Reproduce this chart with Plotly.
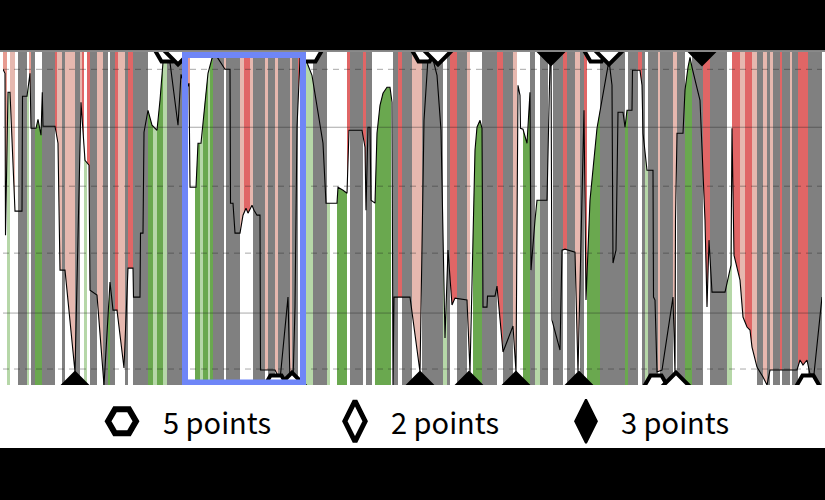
import numpy as np
import plotly.graph_objects as go

# ---------------- data ----------------
line_x = [3, 5, 5.5, 8, 10, 15, 22, 22.5, 27, 30, 31, 36, 38, 41, 42.3, 43, 55, 58, 60, 65, 75,
          81, 85, 89, 90, 97, 104, 110, 113, 117, 124, 128, 133, 133.5, 140, 140.5, 143, 144, 148,
          152, 157, 160, 163, 167, 170, 178, 181, 186, 189, 190, 196, 198, 201, 203, 205, 208, 212,
          215, 218, 225, 230, 230.5, 233, 235, 240, 243, 246, 248, 252, 254, 257, 260, 260.5, 275,
          280, 288, 290, 293, 295, 297, 300, 305, 308, 312, 323, 326, 337, 338, 343, 347, 349, 362,
          365, 366, 368, 370, 371, 375, 377, 380, 383, 387, 390, 392, 393, 394, 410, 420, 424, 428,
          432, 437, 441, 445, 448, 452, 455, 467, 470, 475, 477, 480, 482, 483, 487, 487.5, 495, 497,
          503, 513, 516, 518, 520, 520.5, 523, 527, 530, 531, 535, 537, 547, 550, 551, 552, 560, 562,
          565, 575, 578, 584, 586, 590, 597, 600, 605, 609, 612, 613, 616, 618, 623, 625, 627, 632,
          632.5, 640, 642, 643, 647, 653, 653.5, 655, 657, 662, 673, 675, 675.5, 677, 683, 685, 688,
          690, 692, 700, 705, 707, 709, 712, 725, 731, 732, 734, 740, 743, 747, 750, 752, 757, 763,
          767, 770, 797, 800, 803, 807, 810, 814, 822]
line_y = [94.8, 93.6, 45.0, 87.9, 87.9, 52.2, 52.2, 86.7, 86.7, 93.6, 77.1, 77.1, 79.8, 75.0, 87.9,
          77.7, 77.7, 72.6, 34.5, 34.5, 3.9,
          84.9, 67.5, 66.0, 28.5, 27.0, 0.0, 30.9, 22.5, 22.5, 5.1, 35.1, 35.1, 26.4, 26.4, 45.6,
          45.6, 75.9, 82.5,
          78.0, 76.5, 85.5, 96.9, 99.0, 96.9, 78.0, 93.3, 88.5, 90.6, 59.4, 59.4, 72.6, 72.6, 78.6,
          85.5, 93.6, 98.1,
          99.3, 98.1, 94.8, 94.8, 54.6, 54.6, 45.6, 45.6, 51.0, 53.1, 51.6, 54.0, 52.5, 51.0, 51.0,
          4.5, 4.5,
          1.5, 26.4, 1.5, 0.9, 23.4, 77.4, 98.1, 99.0, 96.0, 93.0, 72.6, 54.6, 54.6, 59.4, 58.5,
          57.6, 76.5, 76.5,
          71.4, 52.5, 77.4, 77.4, 55.5, 54.6, 75.6, 84.0, 87.6, 89.4, 89.4, 84.9, 0.0, 26.4, 26.4,
          3.9, 79.5, 98.1,
          99.0, 93.0, 76.5, 14.1, 40.5, 24.0, 26.1, 25.5, 3.9, 70.5, 77.4, 79.5, 77.1, 23.4, 23.4,
          26.7, 26.7, 29.7,
          9.9, 17.7, 3.9, 90.0, 87.0, 77.1, 76.8, 72.6, 87.9, 34.5, 49.5, 55.5, 55.5, 96.9, 99.6,
          19.5, 10.5, 40.5,
          40.8, 39.9, 3.9, 82.5, 25.5, 55.5, 77.1, 82.5, 91.5, 97.5, 90.0, 36.6, 40.5, 81.9, 81.9,
          77.4, 82.5, 82.5,
          94.5, 94.5, 90.0, 75.6, 64.5, 64.5, 26.4, 25.5, 3.9, 4.5, 26.4, 3.9, 49.5, 75.6, 75.6,
          88.5, 95.4,
          98.4, 95.4, 85.5, 49.5, 23.4, 43.5, 27.9, 27.9, 36.0, 77.1, 39.0, 31.5, 20.4, 17.4, 16.5,
          11.4, 5.4, 2.4,
          0.0, 4.5, 4.5, 7.5, 6.0, 7.5, 3.3, 3.3, 26.4]

band_edges = [3, 7, 10, 15, 18, 27, 29, 31, 35, 42, 55, 57, 62, 65, 75, 80, 82, 84, 87, 90, 97, 103,
              108, 110, 115, 118, 125, 128, 133, 148, 153, 157, 163, 167, 182, 187, 190, 195, 200,
              203, 208, 210, 213, 224, 226, 240, 244, 250, 253, 265, 268, 275, 278, 290, 292, 298,
              300, 306, 313, 327, 330, 337, 347, 350, 363, 366, 372, 375, 391, 393, 398, 402, 412,
              422, 443, 447, 450, 457, 467, 470, 473, 482, 497, 503, 513, 517, 523, 530, 535, 540,
              548, 553, 563, 567, 575, 580, 584, 587, 600, 625, 628, 638, 642, 645, 648, 658, 660,
              673, 677, 685, 692, 703, 710, 727, 732, 740, 745, 752, 757, 763, 767, 770, 773, 780,
              782, 790, 792, 798, 808, 822]
band_kinds = ['R', 'Gl', 'Rl', 'W', 'G', 'Gl', 'R', 'G', 'Gd', 'G', 'Rd', 'Rl', 'G', 'Rl', 'G',
              'Rl', 'Rd', 'Gl', 'Rd', 'G', 'Rl', 'G', 'Gd', 'G', 'Rd', 'Rl', 'G', 'Rd', 'G', 'Gd',
              'Gl', 'Gd', 'Gl', 'G', 'G', 'R', 'W', 'Gd', 'Gl', 'Gd', 'Gl', 'Gd', 'G', 'Rl', 'G',
              'Rl', 'Rd', 'Rl', 'G', 'Rl', 'G', 'Rl', 'G', 'Rl', 'G', 'Rd', 'G', 'Gl', 'G', 'Gl',
              'W', 'Gd', 'Rd', 'G', 'Rd', 'G', 'W', 'Gd', 'W', 'G', 'Rd', 'G', 'Rl', 'G', 'Gl', 'G',
              'Rd', 'G', 'Rl', 'W', 'Gd', 'G', 'Rd', 'G', 'Rl', 'W', 'Gd', 'G', 'Gl', 'G', 'W', 'G',
              'Rd', 'G', 'Rl', 'G', 'Rd', 'Gd', 'G', 'Gd', 'G', 'Rd', 'G', 'Gl', 'G', 'Rl', 'G',
              'Rl', 'G', 'Gd', 'G', 'Rd', 'G', 'Gl', 'Rd', 'Rl', 'Rd', 'Rl', 'G', 'Rl', 'G', 'Rl',
              'G', 'Rd', 'G', 'Rl', 'G', 'Rd', 'G']

event_x = [167, 178, 310, 424, 438, 551, 596, 609, 702,
           75, 276, 292, 420, 469, 516, 579, 656, 676, 808]
event_side = ['top'] * 9 + ['bottom'] * 10
event_points = [5, 2, 5, 5, 2, 3, 5, 2, 3,
                3, 5, 2, 3, 3, 3, 3, 5, 2, 5]

legend_points = [5, 2, 3]
legend_labels = ['5 points', '2 points', '3 points']
legend_marker_x = [122, 355, 586]
legend_text_x = [161, 389, 619]

grid_solid = [77.4, 21.6]
grid_dashed = [94.8, 59.7, 39.6, 4.8]
highlight_x = [185, 303]

# ---------------- styles ----------------
kind_colors = {'Gd': '#6aa84f', 'Gl': '#b6d7a8', 'Rd': '#e06666', 'Rl': '#e6b8af',
               'R': '#e79b91', 'G': '#808080'}
YMIN, YMAX = 0, 100
XMIN, XMAX = 3, 822

assert len(band_edges) == len(band_kinds) + 1
assert len(line_x) == len(line_y)

lx = np.array(line_x, float)
ly = np.array(line_y, float)


def segment(x0, x1):
    inner = (lx > x0) & (lx < x1)
    xs = np.concatenate([[x0], lx[inner], [x1]])
    ys = np.concatenate([[np.interp(x0, lx, ly)], ly[inner], [np.interp(x1, lx, ly)]])
    return xs, ys


fig = go.Figure()

# gray columns
gx, gw = [], []
for i, k in enumerate(band_kinds):
    if k == 'G':
        a, b = band_edges[i], band_edges[i + 1]
        gx.append((a + b) / 2)
        gw.append(b - a)
fig.add_trace(go.Bar(x=gx, y=[YMAX + 2] * len(gx), base=YMIN - 2, width=gw,
                     marker=dict(color=kind_colors['G'], line=dict(width=0)),
                     showlegend=False, hoverinfo='skip'))

# colored fills (green below the line, red above it)
for kind in ['Gd', 'Gl', 'Rd', 'Rl', 'R']:
    px, py = [], []
    for i, k in enumerate(band_kinds):
        if k != kind:
            continue
        a, b = band_edges[i], band_edges[i + 1]
        xs, ys = segment(a, b)
        edge = YMIN - 1 if kind.startswith('G') else YMAX + 1
        px += [a] + list(xs) + [b, None]
        py += [edge] + list(ys) + [edge, None]
    fig.add_trace(go.Scatter(x=px, y=py, mode='lines', fill='toself',
                             fillcolor=kind_colors[kind], line=dict(width=0),
                             showlegend=False, hoverinfo='skip'))

# the line
fig.add_trace(go.Scatter(x=line_x, y=line_y, mode='lines',
                         line=dict(color='black', width=1.1),
                         showlegend=False, hoverinfo='skip'))

# event markers (clipped at the plot edges)
sym = {5: 'hexagon2', 2: 'diamond', 3: 'diamond'}
fill = {5: 'white', 2: 'white', 3: 'black'}
lw = {5: 4, 2: 4, 3: 2}
size = {5: 22, 2: 19, 3: 20}
for p in [5, 2, 3]:
    xs = [x for x, s, q in zip(event_x, event_side, event_points) if q == p]
    ys = [YMAX if s == 'top' else YMIN
          for x, s, q in zip(event_x, event_side, event_points) if q == p]
    fig.add_trace(go.Scatter(x=xs, y=ys, mode='markers', cliponaxis=True,
                             marker=dict(symbol=sym[p], color=fill[p], size=size[p],
                                         line=dict(color='black', width=lw[p])),
                             showlegend=False, hoverinfo='skip'))

# custom legend (separate axes below the plot)
leg_sym = {5: 'hexagon2', 2: 'diamond-tall', 3: 'diamond-tall'}
leg_size = {5: 28, 2: 29, 3: 31}
leg_lw = {5: 6, 2: 5, 3: 2}
for p, mx in zip(legend_points, legend_marker_x):
    fig.add_trace(go.Scatter(x=[mx], y=[0.43], mode='markers', xaxis='x2', yaxis='y2',
                             marker=dict(symbol=leg_sym[p], color=fill[p], size=leg_size[p],
                                         line=dict(color='black', width=leg_lw[p])),
                             showlegend=False, hoverinfo='skip'))
annotations = []
for lab, tx in zip(legend_labels, legend_text_x):
    annotations.append(dict(x=tx, y=0.43, xref='x2', yref='y2', text=lab, showarrow=False,
                            xanchor='left', yanchor='middle',
                            font=dict(family='Noto Sans CJK JP', size=29, color='#000000')))

shapes = []
for g in grid_solid:
    shapes.append(dict(type='line', xref='paper', x0=0, x1=1, yref='y', y0=g, y1=g,
                       layer='above', line=dict(color='rgba(30,30,30,0.38)', width=1)))
for g in grid_dashed:
    shapes.append(dict(type='line', xref='paper', x0=0, x1=1, yref='y', y0=g, y1=g,
                       layer='above',
                       line=dict(color='rgba(30,30,30,0.38)', width=1, dash='6px,5px')))
shapes.append(dict(type='rect', xref='x', yref='y', x0=highlight_x[0], x1=highlight_x[1],
                   y0=0.75, y1=99.1, layer='above',
                   line=dict(color='#6f86f7', width=6), fillcolor='rgba(0,0,0,0)'))
# black bands above and below
H = 396.0
shapes.append(dict(type='rect', xref='paper', yref='paper', x0=-0.05, x1=1.05,
                   y0=1 + 1.6 / H, y1=1.3, layer='above', line=dict(width=0),
                   fillcolor='black'))
shapes.append(dict(type='line', xref='paper', yref='paper', x0=-0.05, x1=1.05,
                   y0=1 + 0.6 / H, y1=1 + 0.6 / H, layer='above',
                   line=dict(color='#8a8a8a', width=1.2)))
shapes.append(dict(type='rect', xref='paper', yref='paper', x0=-0.05, x1=1.05,
                   y0=-0.3, y1=0, layer='above', line=dict(width=0), fillcolor='black'))

main_bottom = (448 - 385) / H
fig.update_layout(
    width=825, height=500,
    margin=dict(l=3, r=3, t=52, b=52, pad=0),
    paper_bgcolor='white', plot_bgcolor='white',
    barmode='overlay', bargap=0,
    showlegend=False,
    xaxis=dict(range=[XMIN, XMAX], domain=[0, 1], showgrid=False, zeroline=False,
               showticklabels=False, ticks='', showline=False),
    yaxis=dict(range=[YMIN, YMAX], domain=[main_bottom, 1], showgrid=False, zeroline=False,
               showticklabels=False, ticks='', showline=False),
    xaxis2=dict(range=[XMIN, XMAX], domain=[0, 1], anchor='y2', visible=False),
    yaxis2=dict(range=[0, 1], domain=[0, main_bottom - 0.002], anchor='x2', visible=False),
    shapes=shapes,
    annotations=annotations,
)

fig.write_html('out.html')
